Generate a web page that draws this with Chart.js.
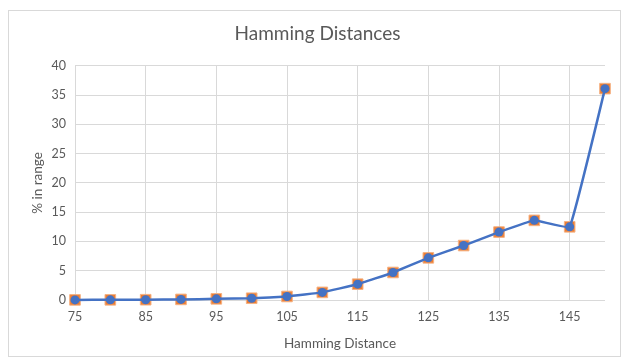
<!DOCTYPE html>
<html>
<head>
<meta charset="utf-8">
<script src="https://cdn.jsdelivr.net/npm/chart.js@4"></script>
<style>
  body { margin: 0; background: #fff; }
  #wrap { position: relative; width: 626px; height: 362px; }
  #frame { position: absolute; left: 8px; top: 10px; width: 611px; height: 345px; border: 1px solid #d9d9d9; }
  canvas { position: absolute; left: 0; top: 0; }
</style>
</head>
<body>
<div id="wrap">
  <div id="frame"></div>
  <canvas id="chart" width="626" height="362"></canvas>
</div>
<script>
// Hamming distance values (x) and % in range (y)
const distances = [75, 80, 85, 90, 95, 100, 105, 110, 115, 120, 125, 130, 135, 140, 145, 150];
const percentInRange = [0.02, 0.03, 0.05, 0.1, 0.2, 0.3, 0.6, 1.3, 2.7, 4.7, 7.2, 9.3, 11.6, 13.6, 12.5, 36.1];
const xTickValues = [75, 85, 95, 105, 115, 125, 135, 145];

const points = distances.map((d, i) => ({ x: d, y: percentInRange[i] }));
const grey = '#595959';
const fontFamily = 'Lato, "Noto Sans", sans-serif';

new Chart(document.getElementById('chart'), {
    type: 'line',
    data: {
        datasets: [
            {
                label: 'line',
                data: points,
                borderColor: '#4472C4',
                borderWidth: 2.5,
                backgroundColor: '#4472C4',
                pointStyle: 'circle',
                pointRadius: 4.5,
                pointBorderWidth: 0,
                tension: 0.08,
                clip: false,
                order: 1
            },
            {
                label: 'markers',
                data: points,
                showLine: false,
                pointStyle: 'rect',
                pointRadius: 7.5,
                backgroundColor: '#ED7D31',
                borderColor: '#F4B183',
                pointBorderWidth: 1,
                clip: false,
                order: 2
            }
        ]
    },
    options: {
        responsive: false,
        animation: false,
        layout: { padding: { left: 30, right: 21, top: 0, bottom: 0 } },
        plugins: {
            legend: { display: false },
            tooltip: { enabled: false },
            title: {
                display: true,
                text: 'Hamming Distances',
                color: grey,
                font: { family: fontFamily, size: 19, weight: 'normal' },
                padding: { top: 22, bottom: 21 }
            }
        },
        scales: {
            x: {
                type: 'linear',
                min: 75,
                max: 150,
                afterBuildTicks: axis => { axis.ticks = xTickValues.map(v => ({ value: v })); },
                afterFit: axis => { axis.height = 62; },
                grid: { color: '#d9d9d9', drawTicks: false },
                border: { display: false },
                ticks: { color: grey, font: { family: fontFamily, size: 12.5 }, padding: 9, maxRotation: 0 },
                title: {
                    display: true,
                    text: 'Hamming Distance',
                    color: grey,
                    font: { family: fontFamily, size: 13.5 },
                    padding: { top: 4, bottom: 10 }
                }
            },
            y: {
                min: 0,
                max: 40,
                afterFit: axis => { axis.width = 45; },
                grid: { color: '#d9d9d9', drawTicks: false },
                border: { display: false },
                ticks: { stepSize: 5, color: grey, font: { family: fontFamily, size: 12.5 }, padding: 9 },
                title: {
                    display: true,
                    text: '% in range',
                    color: grey,
                    font: { family: fontFamily, size: 13.5 },
                    padding: { top: 0, bottom: 4 }
                }
            }
        }
    }
});
</script>
</body>
</html>
